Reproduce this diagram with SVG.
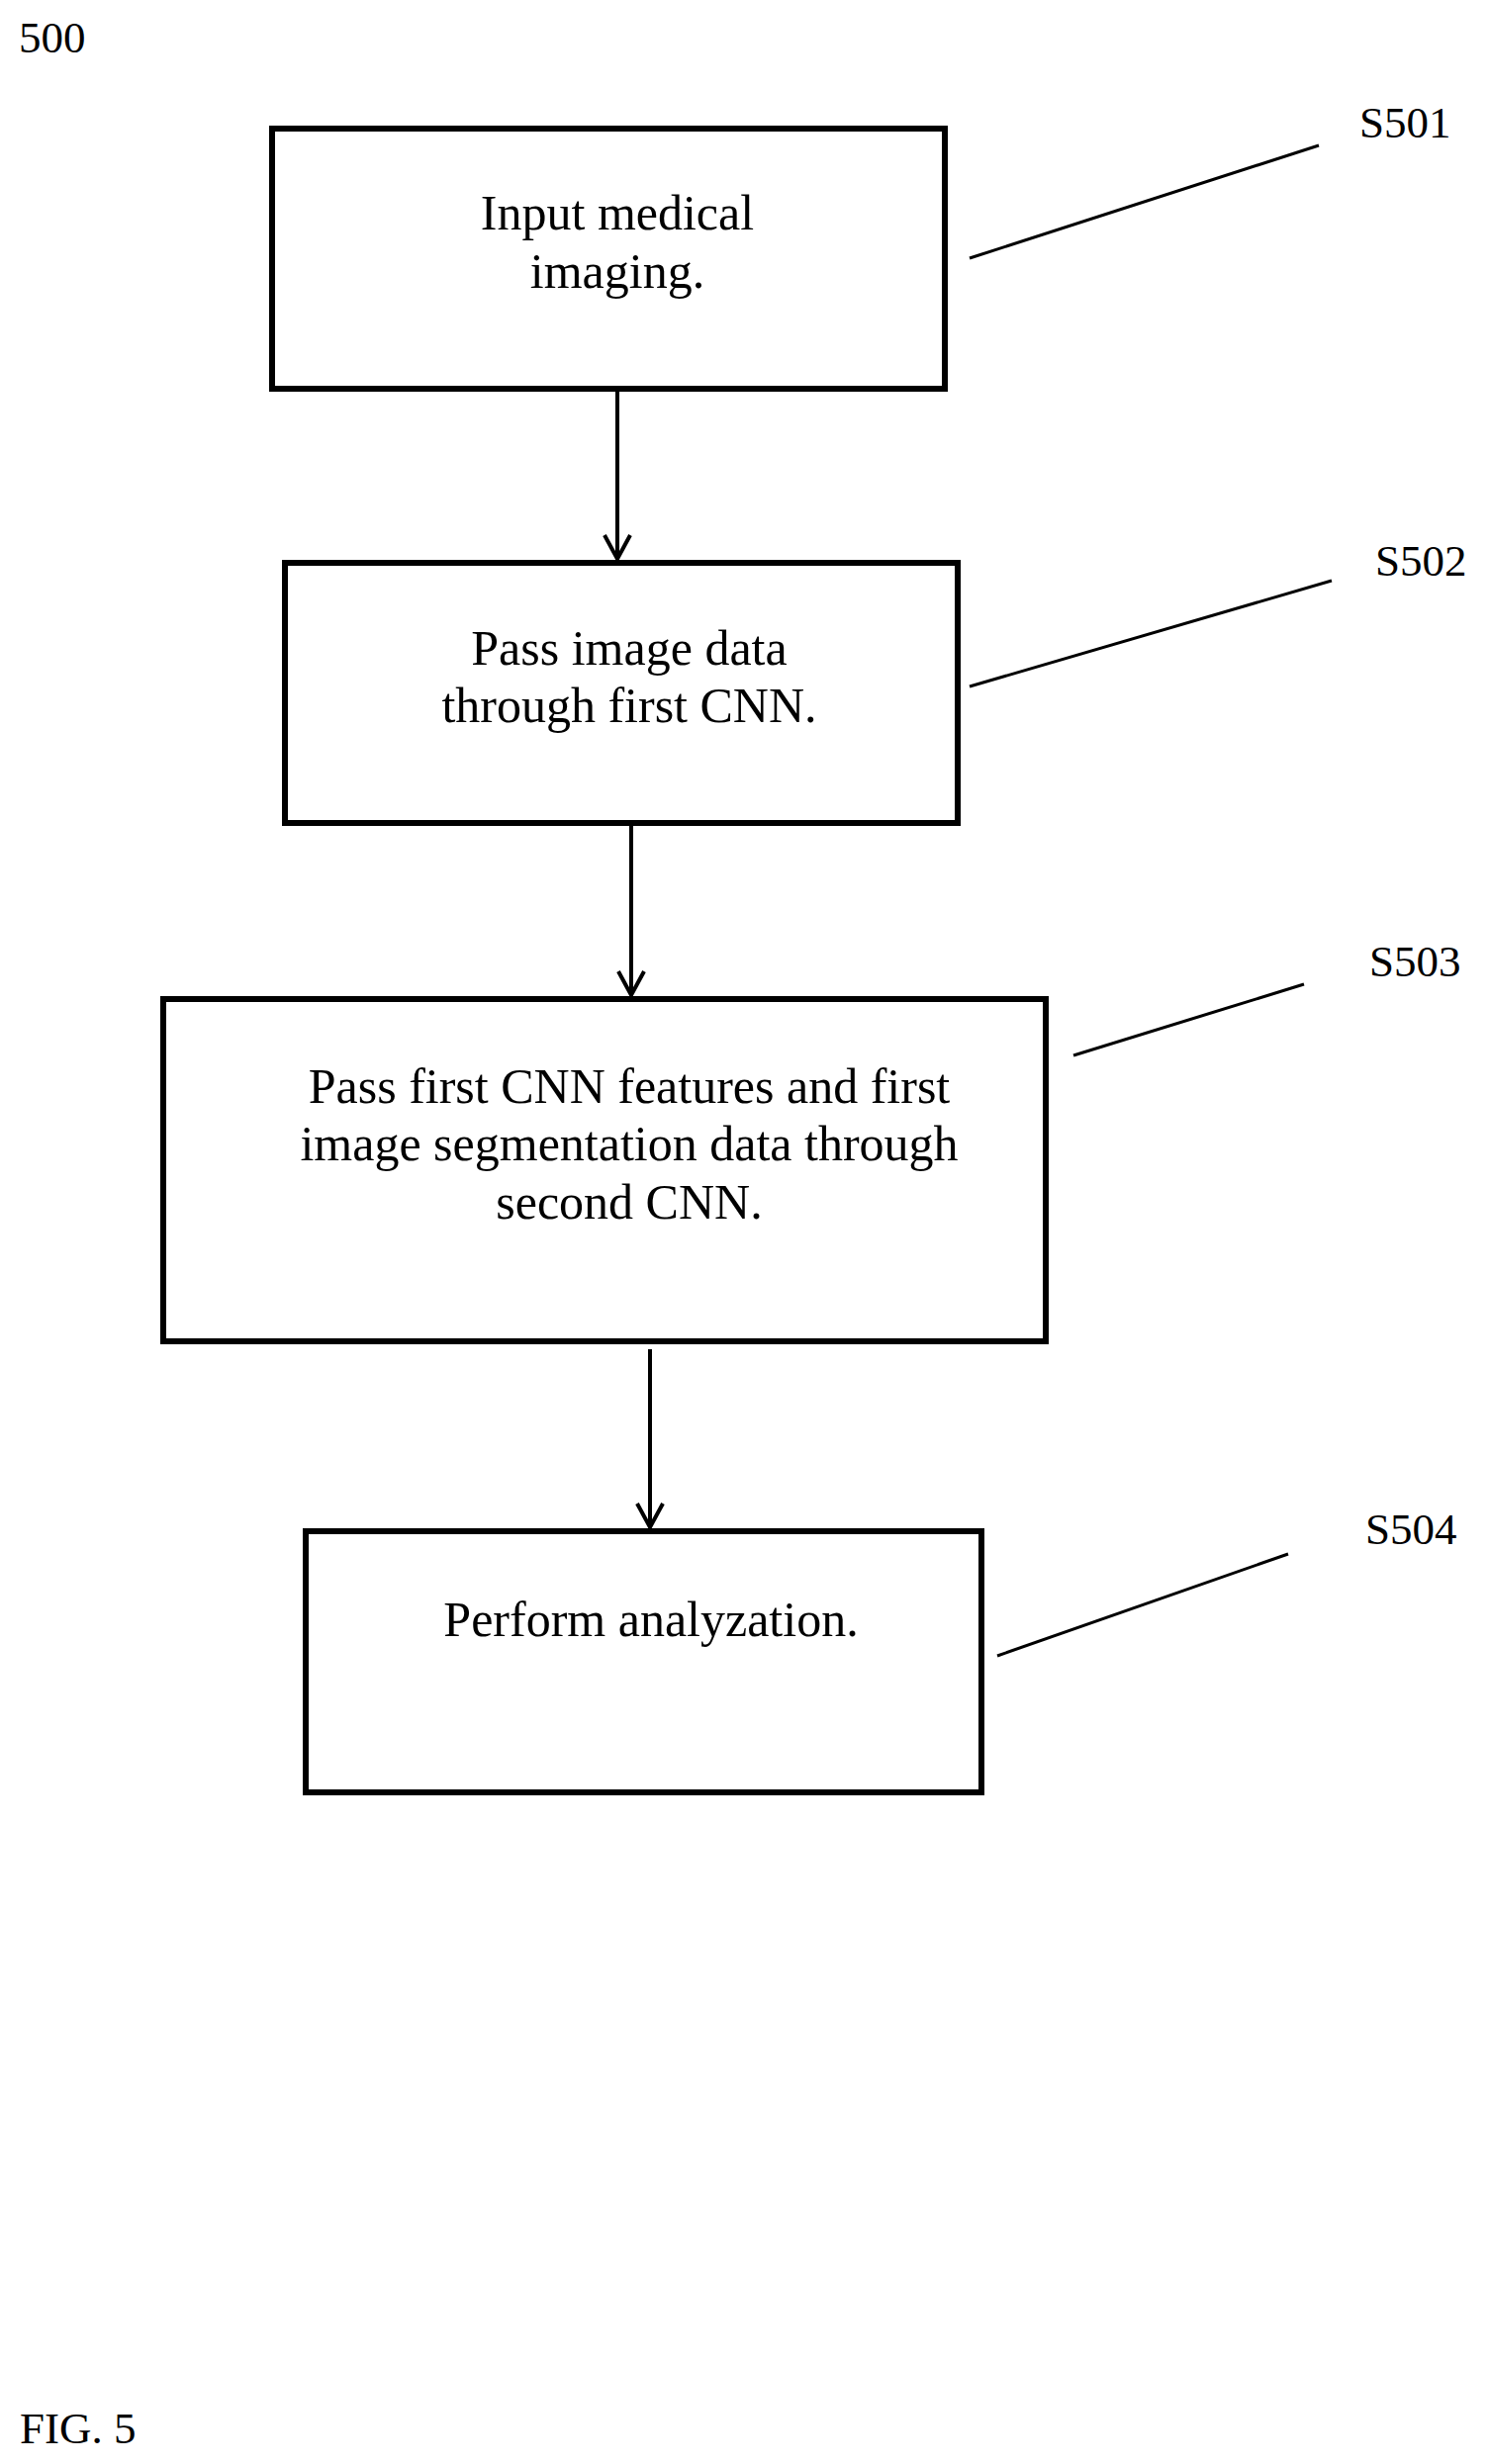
<svg xmlns="http://www.w3.org/2000/svg" width="1504" height="2491" viewBox="0 0 1504 2491">
<style>
.box{fill:#fff;stroke:#000;stroke-width:6}
.t{font-family:"Liberation Serif",serif;font-size:45px;fill:#000}
.b{font-size:50px}
.c{text-anchor:middle}
.ln{stroke:#000;stroke-width:3;fill:none}
.ar{stroke:#000;stroke-width:4;fill:none}
</style>
<defs>
<marker id="a2" markerWidth="30" markerHeight="30" refX="26" refY="15" orient="auto" markerUnits="userSpaceOnUse">
<path d="M2,2 L26,15 L2,28" fill="none" stroke="#000" stroke-width="4"/>
</marker>
</defs>
<rect width="1504" height="2491" fill="#fff"/>
<text class="t" x="19" y="53">500</text>
<text class="t" x="20" y="2470">FIG. 5</text>
<g id="S501">
<rect class="box" x="275" y="130" width="680" height="263"/>
<text class="t b c" x="624" y="232">Input medical</text>
<text class="t b c" x="624" y="291">imaging.</text>
<text class="t" x="1374" y="139">S501</text>
</g>
<g id="S502">
<rect class="box" x="288" y="569" width="680" height="263"/>
<text class="t b c" x="636" y="672">Pass image data</text>
<text class="t b c" x="636" y="730">through first CNN.</text>
<text class="t" x="1390" y="582">S502</text>
</g>
<g id="S503">
<rect class="box" x="165" y="1010" width="892" height="346"/>
<text class="t b c" x="636" y="1115">Pass first CNN features and first</text>
<text class="t b c" x="636" y="1173">image segmentation data through</text>
<text class="t b c" x="636" y="1232">second CNN.</text>
<text class="t" x="1384" y="987">S503</text>
</g>
<g id="S504">
<rect class="box" x="309" y="1548" width="683" height="264"/>
<text class="t b c" x="658" y="1654">Perform analyzation.</text>
<text class="t" x="1380" y="1561">S504</text>
</g>
<g id="connectors">
<line class="ar" x1="624" y1="396" x2="624" y2="565" marker-end="url(#a2)"/>
<line class="ar" x1="638" y1="835" x2="638" y2="1006" marker-end="url(#a2)"/>
<line class="ar" x1="657" y1="1364" x2="657" y2="1544" marker-end="url(#a2)"/>
<line class="ln" x1="980" y1="261" x2="1333" y2="147"/>
<line class="ln" x1="980" y1="694" x2="1346" y2="587"/>
<line class="ln" x1="1085" y1="1067" x2="1318" y2="995"/>
<line class="ln" x1="1008" y1="1674" x2="1302" y2="1571"/>
</g>
</svg>
